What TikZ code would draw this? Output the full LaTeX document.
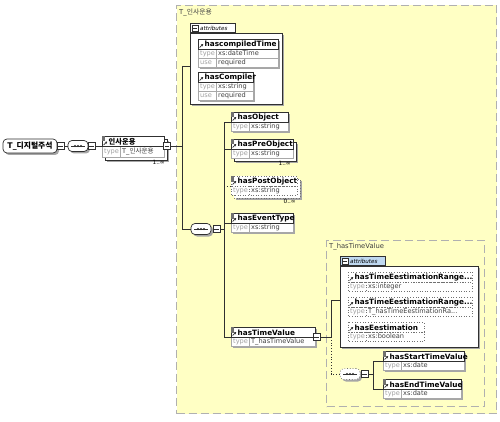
\documentclass[tikz,border=0pt]{standalone}
\usepackage{fontspec}
\setmainfont{DejaVu Sans}
\newfontfamily\kr{Noto Sans CJK KR}
\usetikzlibrary{arrows.meta}
\definecolor{ybg}{HTML}{FFFFC4}
\definecolor{dashc}{HTML}{B0B0B0}
\definecolor{bordc}{HTML}{303030}
\definecolor{typebc}{HTML}{A8A8A8}
\definecolor{shadowc}{HTML}{A6A6A6}
\definecolor{typelc}{HTML}{A0A0A0}
\definecolor{typevc}{HTML}{404040}
\definecolor{tabblue}{HTML}{BFD8F0}
\definecolor{markc}{HTML}{707070}
\newif\ifXsh \Xshtrue
\def\TH{10}\def\RH{9}
\tikzset{
 conn/.style={draw=bordc,line width=0.8pt},
 titleb/.style={draw=bordc,line width=0.7pt},
 typeb/.style={draw=typebc,line width=0.6pt},
 ttl/.style={anchor=west,inner sep=0pt,font=\fontsize{7.3}{8}\selectfont\bfseries},
 typl/.style={anchor=west,inner sep=0pt,text=typelc,font=\fontsize{6.6}{7}\selectfont},
 typv/.style={anchor=west,inner sep=0pt,text=typevc,font=\fontsize{6.6}{7}\selectfont},
 pmbox/.style={draw=bordc,fill=white,line width=0.6pt,minimum width=7pt,minimum height=7pt,inner sep=0pt,
   path picture={\draw[bordc,line width=0.6pt] ([xshift=1.4pt]path picture bounding box.west) -- ([xshift=-1.4pt]path picture bounding box.east);}},
 seqbox/.style={draw=bordc,fill=white,line width=0.7pt,rounded corners=4pt,minimum width=20pt,minimum height=11pt,inner sep=0pt},
 grp/.style={draw=dashc,fill=ybg,line width=1pt,dash pattern=on 8pt off 4pt,anchor=north west,inner sep=0pt},
 grplbl/.style={anchor=west,inner sep=0pt,text=typevc,font=\fontsize{6.8}{8}\selectfont},
 attbox/.style={draw=bordc,fill=white,line width=0.7pt,anchor=north west,inner sep=0pt},
 tabbox/.style={draw=bordc,fill=white,line width=0.7pt,anchor=south west,inner sep=0pt,minimum width=45pt,minimum height=9pt},
 tabtxt/.style={anchor=west,inner sep=0pt,font=\fontsize{5.6}{6}\selectfont\itshape},
 mult/.style={anchor=north east,inner sep=0pt,font=\fontsize{5.8}{6}\selectfont},
 rootbox/.style={draw=bordc,fill=white,line width=0.7pt,rounded corners=4pt,minimum width=54pt,minimum height=14pt,inner sep=1pt,font=\fontsize{7.8}{8.5}\selectfont\bfseries}
}
\newcommand\XBase[7]{%
 \ifXsh\fill[shadowc] (#2+2,#3+2) rectangle (#2+#4+2,#3+\TH+\RH+2);\fi
 \draw[typeb,#7,fill=white] (#2,#3+\TH) rectangle (#2+#4,#3+\TH+\RH);
 \draw[typeb,#7] (#2+18,#3+\TH) -- (#2+18,#3+\TH+\RH);
 \draw[titleb,#7,fill=white] (#2,#3) rectangle (#2+#4,#3+\TH);
 \node[ttl] (#1) at (#2+6.5,#3+\TH/2+0.4) {#5};
 \node[typl] (#1-tl) at (#2+2,#3+\TH+\RH/2) {type};
 \node[typv] (#1-tv) at (#2+20,#3+\TH+\RH/2) {#6};
 \draw[bordc,line width=0.7pt,-{Stealth[length=2.2pt,width=2.6pt]}] (#2+1.6,#3+\TH-1.4) -- ++(3.6,-3.6);
 \coordinate (#1-in) at (#2,#3+10);
}
\newcommand\XElem[7]{\XBase{#1}{#2}{#3}{#4}{#5}{#6}{#7}\fill[markc] (#2-0.3,#3-0.3) rectangle (#2+2.7,#3+5.5);}
\newcommand\XStack[5]{%
 \ifXsh\fill[shadowc] (#1+5,#2+5) rectangle (#1+#3+5,#2+#4+5);\fi
 \draw[titleb,#5,fill=white] (#1+3,#2+3) rectangle (#1+#3+3,#2+#4+3);
}
\newcommand\XAttU[7]{%
 \fill[shadowc] (#2+2,#3+2) rectangle (#2+#4+2,#3+\TH+2*\RH+2);
 \draw[typeb,fill=white] (#2,#3+\TH) rectangle (#2+#4,#3+\TH+2*\RH);
 \draw[typeb] (#2,#3+\TH+\RH) -- (#2+#4,#3+\TH+\RH);
 \draw[typeb] (#2+18,#3+\TH) -- (#2+18,#3+\TH+2*\RH);
 \draw[titleb,fill=white] (#2,#3) rectangle (#2+#4,#3+\TH);
 \node[ttl] (#1) at (#2+6.5,#3+\TH/2+0.4) {#5};
 \node[typl] (#1-tl) at (#2+2,#3+\TH+\RH/2) {type};
 \node[typv] (#1-tv) at (#2+20,#3+\TH+\RH/2) {#6};
 \node[typl] (#1-ul) at (#2+2,#3+\TH+1.5*\RH) {use};
 \node[typv] (#1-uv) at (#2+20,#3+\TH+1.5*\RH) {#7};
 \draw[bordc,line width=0.7pt,-{Stealth[length=2.2pt,width=2.6pt]}] (#2+1.6,#3+\TH-1.4) -- ++(3.6,-3.6);
}
\newcommand\XSeq[4]{%
 \fill[shadowc,rounded corners=4pt] (#2-8,#3-3.5) rectangle (#2+12,#3+7.5);
 \node[seqbox,#4] (#1) at (#2,#3) {};
 \draw[bordc,line width=0.8pt] (#2-7,#3) -- (#2+7,#3);
 \foreach \dx in {-3,0,3} \fill[bordc] (#2+\dx,#3) circle (1.1pt);
}
\begin{document}
\begin{tikzpicture}[x=1pt,y=-1pt]
\useasboundingbox (0,0) rectangle (500,422);
\fill[white] (0,0) rectangle (500,422);
% groups
\node[grp,minimum width=320pt,minimum height=408pt] (g1) at (176,5) {};
\node[grplbl] (g1l) at (179,12.5) {T\_{\kr 인사운용}};
\node[grp,minimum width=158pt,minimum height=166pt] (g2) at (326,240) {};
\node[grplbl] (g2l) at (329,246.5) {T\_hasTimeValue};
% root
\fill[shadowc,rounded corners=4pt] (5,141) rectangle (59,155);
\node[rootbox] (root) at (30,146) {T\_{\kr 디지털주석}};
\node[pmbox] (rootpm) at (60.5,146) {};
\XSeq{c1}{78}{146}{}
\node[pmbox] (c1pm) at (91.5,146) {};
\draw[conn] (rootpm.east) -- (c1.west);
% main element
\begin{scope}
\def\TH{10.5}\def\RH{11}
\XStack{102}{136}{62}{21.5}{}
\Xshfalse
\XElem{main}{102}{136}{62}{{\kr 인사운용}}{T\_{\kr 인사운용}}{}
\end{scope}
\node[pmbox] (mainpm) at (167,146) {};
\node[mult] (mainm) at (165,160) {1..∞};
\draw[conn] (c1pm.east) -- (main-in);
% attributes 1
\fill[shadowc] (192,35) rectangle (284,106);
\node[attbox,minimum width=92pt,minimum height=71pt] (att1) at (190,33) {};
\node[tabbox] (tab1) at (190,33) {};
\node[pmbox,minimum width=6pt,minimum height=6pt] (tab1i) at (195,28.5) {};
\node[tabtxt] (tab1t) at (200,28.7) {attributes};
\XAttU{hct}{198}{39}{80}{hascompiledTime}{xs:dateTime}{required}
\XAttU{hcp}{198}{72}{55}{hasCompiler}{xs:string}{required}
% sequence 2
\XSeq{c2}{201}{229}{}
\node[pmbox] (c2pm) at (216.5,229) {};
\coordinate (v1t) at (182,66);
\coordinate (v1b) at (182,229);
\draw[conn] (mainpm.east) -| (v1t);
\draw[conn] (v1t) -- (v1t -| att1.west);
\draw[conn] (v1t) -- (v1b) -- (c2.west);
% elements
\XElem{hasObject}{231}{112}{57}{hasObject}{xs:string}{}
\XStack{231}{139}{62}{19}{}
\begin{scope}\Xshfalse
\XElem{hasPreObject}{231}{139}{62}{hasPreObject}{xs:string}{}
\end{scope}
\node[mult] (preM) at (291,161) {1..∞};
\XStack{231}{176}{66}{19}{dotted,draw=markc}
\begin{scope}\Xshfalse
\XElem{hasPostObject}{231}{176}{66}{hasPostObject}{xs:string}{dotted,draw=markc}
\end{scope}
\node[mult] (postM) at (296,198.5) {0..∞};
\XElem{hasEventType}{231}{213}{62}{hasEventType}{xs:string}{}
\XElem{hasTimeValue}{231}{327}{84}{hasTimeValue}{T\_hasTimeValue}{}
\node[pmbox] (tvpm) at (316.5,337) {};
\coordinate (v2) at (224,229);
\draw[conn] (c2pm.east) -- (v2);
\draw[conn] (hasObject-in) -- (hasObject-in -| v2) -- (hasTimeValue-in -| v2) -- (hasTimeValue-in);
\draw[conn] (hasPreObject-in -| v2) -- (hasPreObject-in);
\draw[conn,dotted] (hasPostObject-in -| v2) -- (hasPostObject-in);
\draw[conn] (hasEventType-in -| v2) -- (hasEventType-in);
% attributes 2
\fill[shadowc] (342,268) rectangle (480,349);
\node[attbox,minimum width=138pt,minimum height=81pt] (att2) at (340,266) {};
\node[tabbox,fill=tabblue] (tab2) at (340,266) {};
\node[pmbox,minimum width=6pt,minimum height=6pt] (tab2i) at (345,261.5) {};
\node[tabtxt] (tab2t) at (350,261.7) {attributes};
\begin{scope}\Xshfalse
\XBase{ter1}{348}{272}{124}{hasTimeEestimationRange...}{xs:integer}{dotted,draw=markc}
\XBase{ter2}{348}{297}{124}{hasTimeEestimationRange...}{T\_hasTimeEestimationRa...}{dotted,draw=markc}
\XBase{hes}{348}{322}{76}{hasEestimation}{xs:boolean}{dotted,draw=markc}
\end{scope}
\coordinate (v3) at (331,337);
\coordinate (v3t) at (331,300);
\draw[conn] (tvpm.east) -- (v3) -- (v3t) -- (v3t -| att2.west);
% sequence 3
\XSeq{c3}{350}{374}{dotted,draw=markc}
\node[pmbox] (c3pm) at (364.5,374) {};
\draw[conn,dotted] (v3) |- (c3.west);
\coordinate (v4) at (373,374);
\draw[conn] (c3pm.east) -- (v4);
\XElem{hst}{383}{351}{81}{hasStartTimeValue}{xs:date}{}
\XElem{het}{383}{379}{78}{hasEndTimeValue}{xs:date}{}
\draw[conn] (hst-in) -- (hst-in -| v4) -- (het-in -| v4) -- (het-in);
\end{tikzpicture}
\end{document}
